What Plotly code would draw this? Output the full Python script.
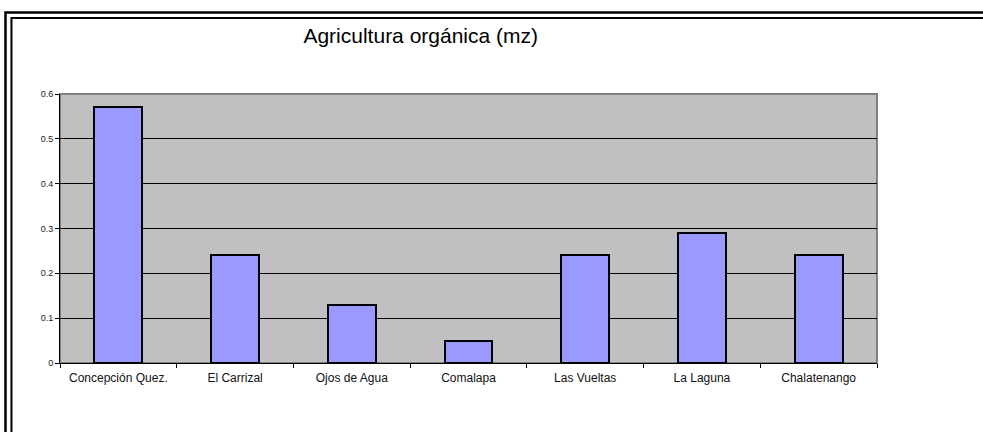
import plotly.graph_objects as go

categories = ["Concepción Quez.", "El Carrizal", "Ojos de Agua", "Comalapa",
              "Las Vueltas", "La Laguna", "Chalatenango"]
values = [0.57, 0.24, 0.13, 0.05, 0.24, 0.29, 0.24]
y_ticks = [0, 0.1, 0.2, 0.3, 0.4, 0.5, 0.6]

fig = go.Figure(
    go.Bar(
        x=categories,
        y=values,
        marker={"color": "#9999FF", "line": {"color": "black", "width": 2}},
        width=0.41,
    )
)

# Double frame around the chart area (runs off the right and bottom edges)
frame = [
    {"x0": -0.0667, "y0": -0.3, "x1": 1.3, "y1": 1.303, "w": 2.5},
    {"x0": -0.0594, "y0": -0.3, "x1": 1.3, "y1": 1.2825, "w": 2},
]
for f in frame:
    fig.add_shape(type="rect", xref="paper", yref="paper",
                  x0=f["x0"], y0=f["y0"], x1=f["x1"], y1=f["y1"],
                  line={"color": "black", "width": f["w"]}, layer="below")

fig.update_layout(
    width=983,
    height=432,
    margin={"l": 60, "r": 106, "t": 94, "b": 69},
    paper_bgcolor="white",
    plot_bgcolor="#C0C0C0",
    font={"family": "Liberation Sans, Arial, sans-serif", "color": "black"},
    title={"text": "Agricultura orgánica (mz)", "x": 0.428, "xanchor": "center",
           "y": 0.917, "yanchor": "middle", "font": {"size": 21}},
    showlegend=False,
    bargap=0,
)
fig.update_xaxes(
    type="category",
    tickson="boundaries",
    ticks="outside",
    ticklen=4,
    tickcolor="black",
    showline=True,
    linecolor="black",
    linewidth=1,
    mirror=False,
    showgrid=False,
    ticklabelstandoff=4,
    tickfont={"size": 12, "color": "#111111"},
)
fig.update_yaxes(
    range=[0, 0.6],
    tickvals=y_ticks,
    ticktext=[str(v) for v in y_ticks],
    ticks="outside",
    ticklen=4,
    tickcolor="black",
    showline=True,
    linecolor="black",
    linewidth=1,
    gridcolor="black",
    gridwidth=1,
    zeroline=False,
    tickfont={"size": 9, "color": "#222222"},
)
# gray plot-area border on top and right
fig.add_shape(type="rect", xref="paper", yref="paper", x0=0, y0=0, x1=1, y1=1,
              line={"color": "#808080", "width": 2}, layer="below")

fig.write_html("out.html", config={"displayModeBar": False},
               post_script="document.body.style.margin='0';")
